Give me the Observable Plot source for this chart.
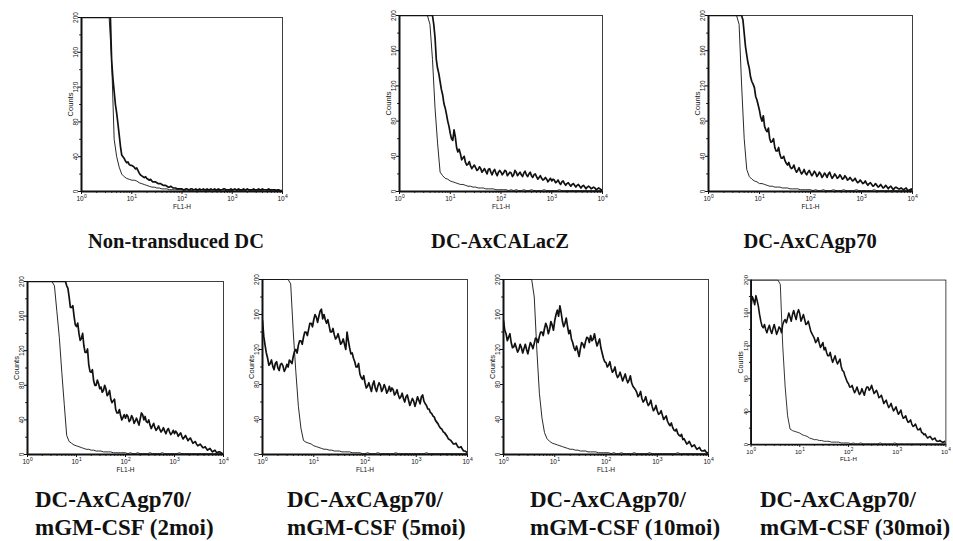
<!DOCTYPE html>
<html><head><meta charset="utf-8">
<script src="https://cdn.jsdelivr.net/npm/d3@7"></script>
<script src="https://cdn.jsdelivr.net/npm/@observablehq/plot@0.6"></script>
<style>
html,body{margin:0;padding:0;background:#fff;overflow:hidden;width:953px;height:541px}
#root{position:relative;width:953px;height:541px;overflow:hidden;background:#fff}
.panel{position:absolute}
.lab{position:absolute;font-family:"Liberation Serif","Times New Roman",serif;font-weight:bold;color:#111;white-space:nowrap}
</style></head><body><div id="root"></div>
<script>
// log10(FL1-H) channel positions (main channels) and in-between channels
const logFL1 = [0,0.05,0.1,0.15,0.2,0.25,0.3,0.35,0.4,0.45,
 0.5,0.55,0.6,0.65,0.7,0.75,0.8,0.85,0.9,0.95,
 1,1.05,1.1,1.15,1.2,1.25,1.3,1.35,1.4,1.45,
 1.5,1.55,1.6,1.65,1.7,1.75,1.8,1.85,1.9,1.95,
 2,2.05,2.1,2.15,2.2,2.25,2.3,2.35,2.4,2.45,
 2.5,2.55,2.6,2.65,2.7,2.75,2.8,2.85,2.9,2.95,
 3,3.05,3.1,3.15,3.2,3.25,3.3,3.35,3.4,3.45,
 3.5,3.55,3.6,3.65,3.7,3.75,3.8,3.85,3.9,3.95,
 4];
const logFL1Mid = [0.025,0.075,0.125,0.175,0.225,0.275,0.325,0.375,0.425,0.475,
 0.525,0.575,0.625,0.675,0.725,0.775,0.825,0.875,0.925,0.975,
 1.025,1.075,1.125,1.175,1.225,1.275,1.325,1.375,1.425,1.475,
 1.525,1.575,1.625,1.675,1.725,1.775,1.825,1.875,1.925,1.975,
 2.025,2.075,2.125,2.175,2.225,2.275,2.325,2.375,2.425,2.475,
 2.525,2.575,2.625,2.675,2.725,2.775,2.825,2.875,2.925,2.975,
 3.025,3.075,3.125,3.175,3.225,3.275,3.325,3.375,3.425,3.475,
 3.525,3.575,3.625,3.675,3.725,3.775,3.825,3.875,3.925,3.975];

// control (thin) histograms
const ctrlNonTransduced = [200,200,200,200,200,200,200,200,200,200,
 200,200,150,60,40,28,20,17,15,14,
 13,13,12,10,9,8,7,6,5,5,
 4,4,3,3,3,2,2,2,2,2,
 2,1,2,1,1,2,1,1,2,1,
 1,1,2,1,1,1,2,1,1,1,
 1,2,1,1,1,1,2,1,1,1,
 1,1,1,2,1,1,1,1,1,1,
 1];
const ctrlLacZ = [200,200,200,200,200,200,200,200,200,200,
 200,200,190,150,95,55,22,18,15,14,
 12,11,10,9,8,8,7,6,6,5,
 5,4,4,4,3,3,3,3,2,2,
 2,2,2,1,2,1,2,1,1,2,
 1,1,2,1,1,1,1,2,1,1,
 1,1,1,2,1,1,1,1,1,1,
 1,1,1,1,1,1,1,1,1,1,
 1];
const ctrlGp70 = [200,200,200,200,200,200,200,200,200,200,
 200,200,190,120,60,25,17,14,12,11,
 9,9,8,7,6,6,5,5,5,4,
 4,4,3,3,3,3,2,2,2,2,
 2,1,2,1,1,2,1,1,1,2,
 1,1,1,2,1,1,1,1,2,1,
 1,1,1,1,1,2,1,1,1,1,
 1,1,1,1,1,1,1,1,1,1,
 1];
const ctrl2moi = [200,200,200,200,200,200,200,200,200,200,
 200,195,165,135,95,58,22,15,13,11,
 10,9,8,7,6,6,5,5,4,4,
 4,3,3,3,3,2,2,2,2,2,
 2,1,2,1,1,2,1,1,1,1,
 2,1,1,1,1,2,1,1,1,1,
 1,1,2,1,1,1,1,1,1,1,
 1,1,1,1,1,1,1,1,1,1,
 1];
const ctrl5moi = [200,200,200,200,200,200,200,200,200,200,
 200,195,140,95,55,30,16,14,13,12,
 10,9,8,7,6,6,5,5,4,4,
 4,3,3,3,3,2,2,2,2,1,
 1,2,1,1,1,2,1,1,1,1,
 1,1,2,1,1,1,1,1,1,1,
 1,1,1,1,2,1,1,1,1,1,
 1,1,1,1,1,1,1,1,1,1,
 1];
const ctrl10moi = [200,200,200,200,200,200,200,200,200,200,
 200,200,180,120,70,42,25,18,15,13,
 12,11,10,9,8,7,6,6,5,5,
 4,4,4,3,3,3,3,2,2,2,
 2,2,1,2,1,1,2,1,1,1,
 1,2,1,1,1,1,1,2,1,1,
 1,1,1,1,1,1,1,1,2,1,
 1,1,1,1,1,1,1,1,1,1,
 1];
const ctrl30moi = [200,200,200,200,200,200,200,200,200,200,
 200,200,195,120,70,35,19,17,16,15,
 14,12,11,10,8,7,6,6,5,5,
 4,4,4,3,3,3,3,2,2,2,
 2,1,2,1,1,2,1,1,1,1,
 1,1,1,2,1,1,1,1,1,2,
 1,1,1,1,1,1,1,1,1,1,
 1,1,1,1,1,1,1,1,1,1,
 1];

// transduced (thick) histograms: main channels
const sampleNonTransduced = [200,200,200,200,200,200,200,200,200,200,
 200,200,150,115,90,65,42,38,33,31,
 30,28,27,21,18,16,15,13,12,11,
 10,9,8,7,6,5,5,4,3,3,
 3,2,3,2,3,2,2,3,2,2,
 3,2,2,3,2,2,2,3,2,2,
 2,3,2,2,2,2,3,2,2,2,
 2,2,3,2,2,2,2,2,2,1,
 1];
const sampleLacZ = [200,200,200,200,200,200,200,200,200,200,
 200,200,200,200,175,140,125,110,95,80,
 66,58,62,45,43,38,33,31,29,28,
 27,25,26,24,23,25,22,23,21,22,
 22,21,23,20,21,19,22,20,19,21,
 19,20,18,19,17,16,15,14,14,13,
 12,13,11,10,11,9,9,8,8,7,
 7,6,6,5,5,5,4,4,3,3,
 2];
const sampleGp70 = [200,200,200,200,200,200,200,200,200,200,
 200,200,200,200,180,155,140,125,118,104,
 92,80,74,68,60,57,50,46,42,38,
 35,30,28,27,25,24,23,22,21,22,
 21,20,21,19,20,18,19,20,18,17,
 18,16,17,15,16,14,14,13,12,11,
 11,10,9,9,8,7,7,6,6,5,
 5,5,4,4,4,3,3,3,2,2,
 2];
const sample2moi = [200,200,200,200,200,200,200,200,200,200,
 200,200,200,200,200,200,195,182,170,160,
 148,140,134,126,118,104,95,85,80,82,
 78,74,76,70,64,62,52,48,45,43,
 42,44,40,42,39,38,41,46,44,37,
 34,33,31,30,29,28,27,28,26,25,
 24,25,23,21,20,19,18,16,14,12,
 11,10,8,7,6,5,4,3,3,2,
 1];
const sample5moi = [153,125,110,104,101,104,99,103,101,98,
 100,106,112,120,125,130,134,140,143,150,
 154,157,158,166,160,150,147,140,137,134,
 132,128,126,140,122,116,106,100,92,86,
 82,78,77,80,76,78,79,75,76,73,
 72,74,70,68,66,64,66,62,60,61,
 60,62,66,61,56,52,47,43,37,32,
 29,25,21,17,14,12,10,8,6,4,
 2];
const sample10moi = [153,138,134,128,123,122,120,122,121,120,
 122,125,127,132,135,140,144,146,143,148,
 153,165,170,152,150,146,142,128,119,118,
 121,126,129,133,136,132,130,128,122,110,
 105,102,99,96,92,90,89,88,86,85,
 82,76,71,68,64,62,60,58,55,52,
 50,47,45,42,38,33,31,27,24,21,
 17,15,13,12,10,8,7,5,4,3,
 2];
const sample30moi = [168,176,181,168,150,142,140,141,139,141,
 140,138,141,146,152,154,155,158,157,160,
 159,154,152,147,144,135,129,126,123,121,
 115,112,108,105,104,102,101,95,89,80,
 74,70,67,66,65,63,64,66,70,68,
 67,64,62,58,55,52,49,47,45,43,
 41,39,36,33,30,28,25,23,21,18,
 15,12,10,9,8,7,5,4,4,3,
 2];

// transduced (thick) histograms: in-between channels (channel noise)
const sampleNonTransducedMid = [200,200,200,200,200,200,200,200,200,200,
 200,200,130,100,78,52,40,35,34,30,
 29,26,24,19,17,17,14,14,11,11,
 9,9,7,7,5,6,4,4,3,3,
 2,3,2,3,2,3,2,2,3,2,
 2,3,2,2,3,2,3,2,2,3,
 2,2,3,2,3,2,2,2,3,2,
 3,2,2,2,3,2,2,1,2,1];
const sampleLacZMid = [200,200,200,200,200,200,200,200,200,200,
 200,200,200,190,150,134,116,100,88,74,
 60,70,50,48,36,40,30,34,26,30,
 24,28,22,26,20,26,19,25,18,24,
 19,24,18,22,17,24,18,22,17,23,
 17,22,16,20,14,18,13,16,11,15,
 14,10,13,8,12,7,10,6,9,5,
 8,4,7,3,6,3,5,2,4,2];
const sampleGp70Mid = [200,200,200,200,200,200,200,200,200,200,
 200,200,200,195,165,146,130,122,108,98,
 84,86,70,72,56,60,46,50,38,40,
 32,33,26,30,22,27,20,25,19,24,
 18,23,17,22,16,21,16,22,15,20,
 15,19,14,18,13,16,12,15,10,13,
 9,12,7,10,6,9,5,8,4,7,
 3,6,2,5,3,4,2,4,1,3];
const sample2moiMid = [200,200,200,200,200,200,200,200,200,200,
 200,200,200,200,200,200,192,170,172,150,
 152,132,140,118,122,96,98,80,86,76,
 72,80,68,74,60,64,48,52,40,46,
 46,38,45,36,42,34,48,40,38,40,
 30,36,28,33,26,31,24,30,23,28,
 27,21,25,18,22,16,19,13,15,10,
 12,8,9,5,7,3,5,2,3,1];
const sample5moiMid = [135,116,102,108,97,106,96,104,95,103,
 108,104,118,116,130,126,140,136,150,146,
 160,151,164,155,154,154,140,144,132,138,
 126,132,120,130,115,110,100,104,88,90,
 76,82,72,84,72,82,72,80,70,78,
 76,68,74,64,70,60,68,56,64,55,
 66,58,68,58,52,48,44,39,35,30,
 26,23,18,16,12,13,8,9,4,3];
const sample10moiMid = [142,130,138,122,127,117,126,116,126,115,
 128,121,133,128,140,136,150,138,152,142,
 160,158,162,146,156,138,132,122,124,112,
 128,122,134,128,130,138,124,132,116,106,
 100,106,94,100,88,94,84,92,82,90,
 78,74,66,72,60,66,56,62,50,56,
 46,50,40,44,35,36,28,29,22,23,
 18,12,15,9,11,6,8,4,5,2];
const sample30moiMid = [180,170,175,158,144,146,136,145,135,146,
 134,143,136,150,148,160,150,163,152,164,
 150,158,146,150,138,132,124,130,118,124,
 118,108,112,100,108,98,104,90,84,76,
 70,72,63,70,61,68,60,70,66,72,
 62,66,57,60,50,54,45,50,41,46,
 37,42,32,35,27,30,22,25,18,20,
 14,13,8,10,6,8,4,5,3,4];

// axis tick labels
const xTickValues = [0,1,2,3,4];
const xTickBase = ["10","10","10","10","10"];
const xTickExponents = ["0","1","2","3","4"];
const yTickValues = [0,40,80,120,160,200];
const yTickLabels = ["0","40","80","120","160","200"];
const xAxisTitle = "FL1-H";
const yAxisTitle = "Counts";

// panel captions
const topCaptions = ["Non-transduced DC","DC-AxCALacZ","DC-AxCAgp70"];
const bottomCaptions1 = ["DC-AxCAgp70/","DC-AxCAgp70/","DC-AxCAgp70/","DC-AxCAgp70/"];
const bottomCaptions2 = ["mGM-CSF (2moi)","mGM-CSF (5moi)","mGM-CSF (10moi)","mGM-CSF (30moi)"];

// layout: plot frame boxes [x1, y1, x2, y2]
const panels = [
  {ctrl: ctrlNonTransduced, sample: sampleNonTransduced, mid: sampleNonTransducedMid, box:[81,17,282,191]},
  {ctrl: ctrlLacZ, sample: sampleLacZ, mid: sampleLacZMid, box:[399,15,602,191]},
  {ctrl: ctrlGp70, sample: sampleGp70, mid: sampleGp70Mid, box:[708,15,912,191]},
  {ctrl: ctrl2moi, sample: sample2moi, mid: sample2moiMid, box:[27,281,223,454]},
  {ctrl: ctrl5moi, sample: sample5moi, mid: sample5moiMid, box:[262,279,467,454]},
  {ctrl: ctrl10moi, sample: sample10moi, mid: sample10moiMid, box:[503,279,708,454]},
  {ctrl: ctrl30moi, sample: sample30moi, mid: sample30moiMid, box:[752,280,958,454]}
];

const minorMult = [2,3,4,5,6,7,8,9];
const xMinor = [];
for (let dec = 0; dec < 4; dec++) for (const m of minorMult) xMinor.push(dec + Math.log10(m));
const yMinor = [20,60,100,140,180];

const root = document.getElementById("root");
const ink = "#111";

panels.forEach((p) => {
  const [x1,y1,x2,y2] = p.box;
  const W = x2 - x1, H = y2 - y1;
  const mL = 26, mR = 8, mT = 8, mB = 24;
  const ctrlRows = logFL1.map((d,i) => ({d, c: p.ctrl[i]}));
  const sampleRows = logFL1.map((d,i) => ({d, c: p.sample[i]}))
    .concat(logFL1Mid.map((d,i) => ({d, c: p.mid[i]})))
    .sort((a,b) => a.d - b.d);
  const chart = Plot.plot({
    width: W + mL + mR, height: H + mT + mB,
    marginLeft: mL, marginRight: mR, marginTop: mT, marginBottom: mB,
    x: {domain: [0,4]},
    y: {domain: [0,200]},
    style: {background: "transparent", fontFamily: "Liberation Sans, Arial, sans-serif", fontSize: "7px", overflow: "visible"},
    marks: [
      Plot.line(ctrlRows, {x: "d", y: "c", stroke: ink, strokeWidth: 0.9, clip: true}),
      Plot.line(sampleRows, {x: "d", y: "c", stroke: ink, strokeWidth: 1.7, clip: true}),
      Plot.frame({stroke: ink, strokeWidth: 0.8}),
      Plot.ruleX([0], {stroke: ink, strokeWidth: 2}),
      Plot.ruleY([0], {stroke: ink, strokeWidth: 2}),
      Plot.axisX({ticks: xTickValues, tickSize: 3, tickFormat: () => "", label: null, stroke: ink}),
      Plot.axisX({ticks: xMinor, tickSize: 1.8, tickFormat: () => "", label: null, stroke: ink}),
      Plot.axisY({ticks: yTickValues, tickSize: 3, tickFormat: () => "", label: null, stroke: ink}),
      Plot.axisY({ticks: yMinor, tickSize: 1.8, tickFormat: () => "", label: null, stroke: ink}),
      Plot.text(xTickValues, {x: (d) => d, y: 0, text: (d) => xTickBase[xTickValues.indexOf(d)], dy: 5, dx: -1.5, textAnchor: "middle", lineAnchor: "top", fontSize: 6.5, fill: ink}),
      Plot.text(xTickValues, {x: (d) => d, y: 0, text: (d) => xTickExponents[xTickValues.indexOf(d)], dy: 3, dx: 2.5, textAnchor: "start", lineAnchor: "top", fontSize: 5, fill: ink}),
      Plot.text(yTickValues, {x: 0, y: (d) => d, text: (d) => yTickLabels[yTickValues.indexOf(d)], rotate: -90, dx: -3.5, textAnchor: "middle", lineAnchor: "bottom", fontSize: 6.5, fill: ink}),
      Plot.text([yAxisTitle], {x: 0, y: 100, text: (d) => d, rotate: -90, dx: -9, textAnchor: "middle", lineAnchor: "bottom", fontSize: 7.5, fill: ink}),
      Plot.text([xAxisTitle], {x: 2, y: 0, text: (d) => d, dy: 13, lineAnchor: "top", fontSize: 6.5, fill: ink})
    ]
  });
  const div = document.createElement("div");
  div.className = "panel";
  div.style.left = (x1 - mL) + "px";
  div.style.top = (y1 - mT) + "px";
  div.appendChild(chart);
  root.appendChild(div);
});

// captions
const topCenters = [176, 500, 810];
topCaptions.forEach((t, i) => {
  const el = document.createElement("div");
  el.className = "lab";
  el.textContent = t;
  el.style.fontSize = "20.5px";
  el.style.lineHeight = "22px";
  el.style.top = "230px";
  el.style.left = (topCenters[i] - 150) + "px";
  el.style.width = "300px";
  el.style.textAlign = "center";
  root.appendChild(el);
});
const bottomLefts = [35, 287, 530, 760];
bottomCaptions1.forEach((t, i) => {
  const el = document.createElement("div");
  el.className = "lab";
  el.appendChild(document.createTextNode(t));
  el.appendChild(document.createElement("br"));
  el.appendChild(document.createTextNode(bottomCaptions2[i]));
  el.style.fontSize = "23px";
  el.style.lineHeight = "28px";
  el.style.top = "486px";
  el.style.left = bottomLefts[i] + "px";
  root.appendChild(el);
});
</script>
</body></html>
